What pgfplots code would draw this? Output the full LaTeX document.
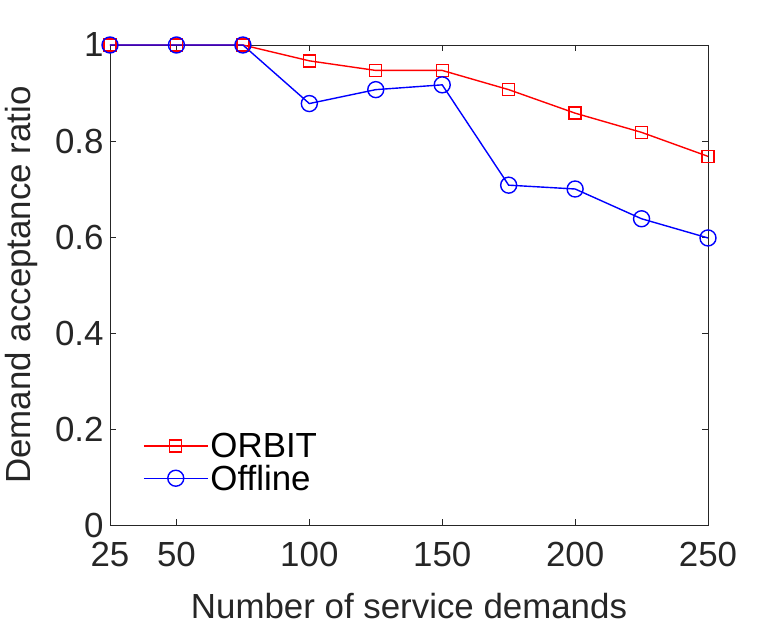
\documentclass[border=0pt]{standalone}
\usepackage{pgfplots}
\pgfplotsset{compat=1.18}
\usepackage{fontspec}
\setmainfont{Liberation Sans}
\definecolor{axgray}{HTML}{262626}
\begin{document}
\begin{tikzpicture}
\useasboundingbox (-110bp,-100bp) rectangle (672bp,525bp);
\begin{axis}[
  scale only axis, width=598bp, height=480bp,
  xmin=25, xmax=250, ymin=0, ymax=1,
  xtick={25,50,100,150,200,250},
  ytick={0,0.2,0.4,0.6,0.8,1},
  yticklabels={0,0.2,0.4,0.6,0.8,1},
  xticklabels={25,50,100,150,200,250},
  tick align=inside, major tick length=6bp,
  axis line style={axgray, line width=0.8bp},
  every tick/.style={axgray, line width=0.8bp},
  tick label style={font=\fontsize{35}{40}\selectfont, text=axgray},
  label style={font=\fontsize{35}{40}\selectfont, text=axgray},
  xlabel={Number of service demands},
  ylabel={Demand acceptance ratio},
  xticklabel style={yshift=-14bp},
  yticklabel style={xshift=-3bp},
  xlabel style={yshift=-19bp},
  ylabel style={yshift=10bp},
  legend style={draw=none, fill=none, at={(0.055,0.065)}, anchor=south west,
    font=\fontsize{35}{40}\selectfont, row sep=2bp, inner sep=0pt,
    cells={anchor=west}},
  legend image code/.code={\draw[mark repeat=2,mark phase=2] plot coordinates {(0bp,0bp)(32bp,0bp)(64bp,0bp)};},
]
\addplot[red, line width=1.4bp, mark=square, mark size=6bp, mark options={solid, line width=1.4bp}] coordinates {
(25,1)(50,1)(75,1)(100,0.967)(125,0.947)(150,0.947)(175,0.907)(200,0.858)(225,0.818)(250,0.768)};
\addlegendentry{ORBIT}
\addplot[blue, line width=1.4bp, mark=o, mark size=8bp, mark options={solid, line width=1.4bp}] coordinates {
(25,1)(50,1)(75,1)(100,0.878)(125,0.907)(150,0.917)(175,0.708)(200,0.700)(225,0.638)(250,0.598)};
\addlegendentry{Offline}
\end{axis}
\end{tikzpicture}
\end{document}
